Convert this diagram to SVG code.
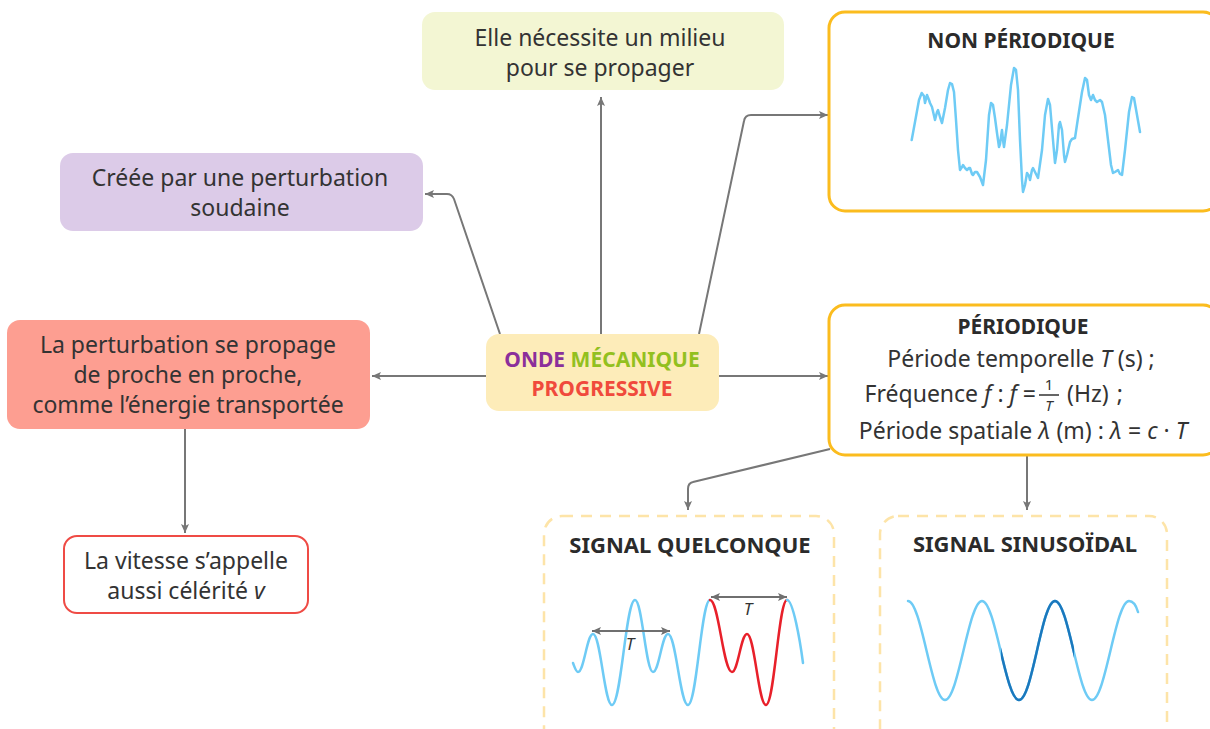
<svg xmlns="http://www.w3.org/2000/svg" width="1210" height="729" viewBox="0 0 1210 729">
<style>
text{font-family:"Noto Sans","Open Sans","Liberation Sans",sans-serif;fill:#333;}
.t{font-size:23px;text-anchor:middle;}
.p{font-size:23px;text-anchor:middle;}
.h{font-size:21px;font-weight:bold;text-anchor:middle;fill:#2b2b2b;}
.i{font-style:italic;}
.con{fill:none;stroke:#777;stroke-width:2;marker-end:url(#arr);}
.box{stroke:#fbbc1e;stroke-width:3;fill:#fff;}
.dash{stroke:#fde4a8;stroke-width:2.5;fill:none;stroke-dasharray:11 8;}
.wave{fill:none;stroke:#6ecbf5;stroke-width:2.5;stroke-linejoin:round;stroke-linecap:round;}
.dim{fill:none;stroke:#6f6f6f;stroke-width:2;marker-end:url(#sa);marker-start:url(#sa);}
</style>
<defs>
<marker id="arr" markerWidth="10" markerHeight="10" refX="9" refY="5" orient="auto" markerUnits="userSpaceOnUse">
<path d="M0,1 L9,5 L0,9 L2,5 z" fill="#777"/>
</marker>
<marker id="sa" markerWidth="10" markerHeight="10" refX="9" refY="5" orient="auto-start-reverse" markerUnits="userSpaceOnUse">
<path d="M0,1 L9,5 L0,9 L2,5 z" fill="#6f6f6f"/>
</marker>
<clipPath id="darkclip"><rect x="1001" y="580" width="73" height="140"/></clipPath>
</defs>

<g id="connectors">
<path class="con" d="M601,334 L601,97"/>
<path class="con" d="M500,334 L454,199 Q452,194 447,194 L425,194"/>
<path class="con" d="M699,334 L744,121 Q745,115 751,115 L828,115"/>
<path class="con" d="M486,376 L372,376"/>
<path class="con" d="M719,376 L828,376"/>
<path class="con" d="M185,429 L185,533"/>
<path class="con" d="M830,449 L693,482 Q688,483 688,489 L688,510"/>
<path class="con" d="M1027,456 L1027,510"/>
</g>

<g id="node-milieu">
<rect x="422" y="12" width="362" height="78" rx="13" fill="#f3f6d3"/>
<text class="t" x="600" y="46">Elle nécessite un milieu</text>
<text class="t" x="600" y="76">pour se propager</text>
</g>

<g id="node-creee">
<rect x="60" y="153" width="363" height="78" rx="13" fill="#dccbe8"/>
<text class="t" x="240" y="186">Créée par une perturbation</text>
<text class="t" x="240" y="216">soudaine</text>
</g>

<g id="node-perturbation">
<rect x="7" y="320" width="363" height="109" rx="13" fill="#fd9e91"/>
<text class="t" x="188" y="353">La perturbation se propage</text>
<text class="t" x="188" y="383">de proche en proche,</text>
<text class="t" x="188" y="413">comme l’énergie transportée</text>
</g>

<g id="node-vitesse">
<rect x="64" y="536" width="244" height="77" rx="13" fill="#fff" stroke="#ef4b45" stroke-width="2"/>
<text class="t" x="186" y="569">La vitesse s’appelle</text>
<text class="t" x="186" y="599">aussi célérité <tspan class="i">v</tspan></text>
</g>

<g id="node-onde">
<rect x="486" y="334" width="233" height="77" rx="13" fill="#fdecb9"/>
<text class="h" x="602" y="367"><tspan style="fill:#8b2f9b">ONDE</tspan> <tspan style="fill:#93c01f">MÉCANIQUE</tspan></text>
<text class="h" x="602" y="396" style="fill:#f04a3c">PROGRESSIVE</text>
</g>

<g id="node-nonperiodique">
<rect class="box" x="829" y="12" width="390" height="199" rx="16"/>
<text class="h" x="1021" y="48">NON PÉRIODIQUE</text>
<polyline class="wave" points="911.7,140 915,122 919,100 921.7,93 924,96 925,103 927,95 929,100 930,103 932,107 935,120 937,112 938,110 940,117 942,123 945,108 948,90 950,83 952,84 954,92 956,120 958,150 960,170 962,167 963,165 965,168 967,170 969,168 970,168 972,174 973,175 975,172 977,172 980,177 983,185 986,160 989,115 991,103 993,105 995,118 997,133 999,147 1000,144 1002,130 1003,140 1004,147 1007,125 1011,85 1014,68 1016,70 1018,90 1020,140 1022,180 1023,192 1025,185 1027,173 1029,176 1030,180 1032,170 1033,168 1035,172 1038,178 1042,150 1045,115 1048,99 1050,105 1053,140 1055,163 1057,150 1059,125 1060,122 1062,130 1064,155 1065,162 1067,155 1070,142 1072,139 1075,138 1078,118 1082,92 1085,78 1087,80 1089,95 1091,100 1093,95 1095,100 1097,102 1100,100 1102,102 1105,115 1108,140 1111,165 1113,173 1115,172 1118,170 1120,174 1122,175 1125,150 1129,112 1132,97 1134,98 1137,115 1140,132"/>
</g>

<g id="node-periodique">
<rect class="box" x="829" y="305" width="390" height="150" rx="16"/>
<text class="h" x="1023" y="334">PÉRIODIQUE</text>
<text class="p" x="1021" y="367">Période temporelle <tspan class="i">T</tspan> (s) ;</text>
<text x="1036" y="402" style="font-size:23px;text-anchor:end">Fréquence <tspan class="i">f</tspan> : <tspan class="i">f</tspan> =</text>
<text x="1049" y="390" style="font-size:15px;text-anchor:middle">1</text>
<line x1="1039" y1="395" x2="1059" y2="395" stroke="#333" stroke-width="1.5"/>
<text x="1049" y="411" style="font-size:15px;text-anchor:middle" class="i">T</text>
<text x="1067" y="402" style="font-size:23px">(Hz)<tspan dx="8">;</tspan></text>
<text class="p" x="1023" y="439">Période spatiale <tspan class="i">λ</tspan> (m) : <tspan class="i">λ</tspan> = <tspan class="i">c</tspan> · <tspan class="i">T</tspan></text>
</g>

<g id="node-quelconque">
<rect class="dash" x="544" y="516" width="290" height="240" rx="18"/>
<text class="h" x="690" y="553" style="font-size:22px">SIGNAL QUELCONQUE</text>
<path class="wave" d="M573,663 C575,668 576,672 578,672 C584,672 587,634 593,634 C600.6,634 604.4,705 612,705 C621.2,705 625.8,600 635,600 C642.2,600 645.8,672 653,672 C659,672 662,634 668,634 C676,634 680,705 688,705 C696.8,705 701.2,600 710,600"/>
<path class="wave" style="stroke:#e8202a" d="M710,600 C718.8,600 723.2,672 732,672 C738,672 741,634 747,634 C754.6,634 758.4,705 766,705 C774.4,705 778.6,600 787,600"/>
<path class="wave" d="M787,600 C793,600 800,640 803,663"/>
<path class="dim" d="M592,631 L670,631"/>
<path class="dim" d="M711,597 L787,597"/>
<text x="630" y="650" class="i" style="font-size:17px;text-anchor:middle">T</text>
<text x="748" y="615" class="i" style="font-size:17px;text-anchor:middle">T</text>
</g>

<g id="node-sinusoidal">
<rect class="dash" x="880" y="516" width="287" height="240" rx="18"/>
<text class="h" x="1025" y="552" style="font-size:22px">SIGNAL SINUSOÏDAL</text>
<path class="wave" d="M908,601 C921.4,601 931.6,700 945,700 S968.6,601 982,601 S1005.6,700 1019,700 S1041.6,601 1055,601 S1078.6,700 1092,700 S1115.6,601 1129,601 C1133,601 1136,605 1138,612"/>
<path class="wave" style="stroke:#1b78bd" clip-path="url(#darkclip)" d="M908,601 C921.4,601 931.6,700 945,700 S968.6,601 982,601 S1005.6,700 1019,700 S1041.6,601 1055,601 S1078.6,700 1092,700 S1115.6,601 1129,601"/>
</g>
</svg>
